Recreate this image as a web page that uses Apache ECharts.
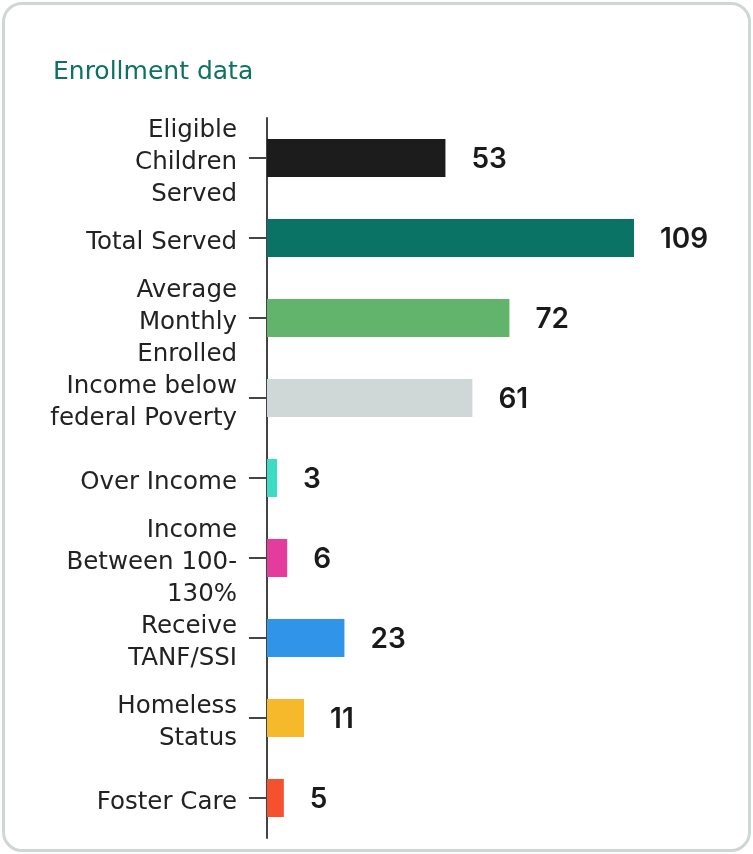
<!DOCTYPE html>
<html>
<head>
<meta charset="utf-8">
<script src="https://cdn.jsdelivr.net/npm/echarts@6/dist/echarts.min.js"></script>
<style>
  html, body { margin: 0; padding: 0; background: #ffffff; }
  #card { position: absolute; left: 2px; top: 2px; width: 749px; height: 850px; box-sizing: border-box;
          border: 3px solid #cfd7d5; border-radius: 20px; background: #ffffff; }
  #chart { position: absolute; left: 0; top: 0; width: 753px; height: 854px; }
</style>
</head>
<body>
<div id="card"></div>
<div id="chart"></div>
<script>
const titleText = 'Enrollment data';
const categories = [
  'Eligible\nChildren\nServed',
  'Total Served',
  'Average\nMonthly\nEnrolled',
  'Income below\nfederal Poverty',
  'Over Income',
  'Income\nBetween 100-\n130%',
  'Receive\nTANF/SSI',
  'Homeless\nStatus',
  'Foster Care'
];
const values = [53, 109, 72, 61, 3, 6, 23, 11, 5];
const barColors = ['#1c1c1c', '#0b7366', '#62b36c', '#cfd8d6', '#3ddbc3', '#e43c9c', '#3094e8', '#f6b92b', '#f5512f'];

const chart = echarts.init(document.getElementById('chart'), null, { renderer: 'canvas' });
chart.setOption({
  backgroundColor: 'transparent',
  animation: false,
  title: {
    text: titleText,
    left: 48,
    top: 55,
    textStyle: { color: '#0c7264', fontSize: 25, fontWeight: 'normal', fontFamily: 'DejaVu Sans' }
  },
  grid: { left: 267, right: 119, top: 118, bottom: 16, containLabel: false },
  xAxis: { type: 'value', min: 0, max: 109, show: false },
  yAxis: {
    type: 'category',
    inverse: true,
    data: categories,
    axisLine: { show: true, lineStyle: { color: '#444444', width: 2 } },
    axisTick: { show: true, length: 18, alignWithLabel: true, lineStyle: { color: '#444444', width: 2 } },
    axisLabel: {
      margin: 30,
      align: 'right',
      formatter: function (v) {
        return v.split('\n').map(function (s) { return '{t|' + s + '}'; }).join('\n');
      },
      rich: {
        t: { color: '#222222', fontSize: 24.5, lineHeight: 32, fontFamily: 'DejaVu Sans', padding: [9, 0, 0, 0], align: 'right' }
      }
    }
  },
  series: [{
    type: 'bar',
    barWidth: 38,
    data: values.map((v, i) => ({ value: v, itemStyle: { color: barColors[i] } })),
    label: {
      show: true,
      position: 'right',
      distance: 26,
      offset: [0, 2],
      color: '#1a1a1a',
      fontSize: 28,
      fontWeight: 600,
      fontFamily: 'Inter'
    }
  }]
});
</script>
</body>
</html>
